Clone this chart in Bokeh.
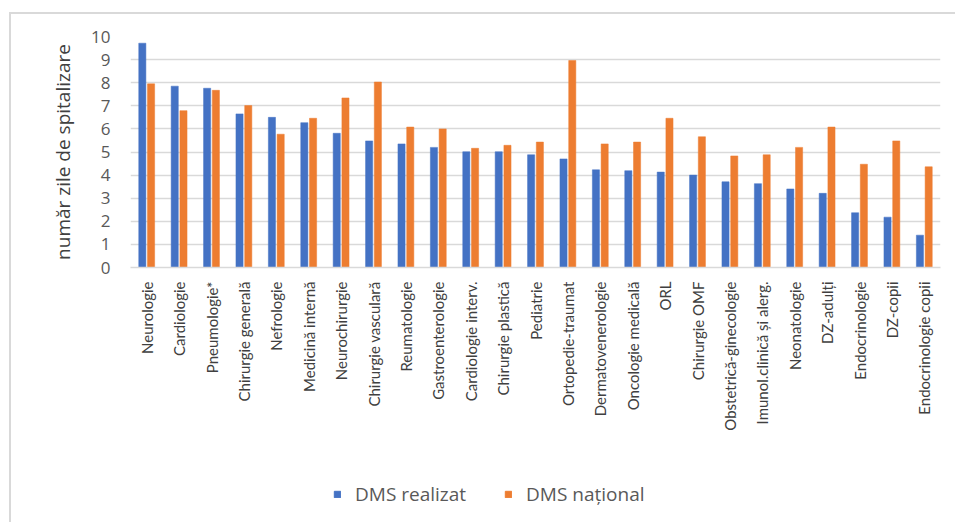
from math import pi
from bokeh.plotting import figure
from bokeh.layouts import column
from bokeh.models import (ColumnDataSource, FactorRange, Range1d, FixedTicker,
                          Legend, LegendItem)
from bokeh.transform import dodge
from bokeh.embed import file_html
from bokeh.resources import INLINE

categories = ["Neurologie", "Cardiologie", "Pneumologie*", "Chirurgie generală", "Nefrologie",
              "Medicină internă", "Neurochirurgie", "Chirurgie vasculară", "Reumatologie",
              "Gastroenterologie", "Cardiologie interv.", "Chirurgie plastică", "Pediatrie",
              "Ortopedie-traumat", "Dermatovenerologie", "Oncologie medicală", "ORL",
              "Chirurgie OMF", "Obstetrică-ginecologie", "Imunol.clinică și alerg.",
              "Neonatologie", "DZ-adulți", "Endocrinologie", "DZ-copii", "Endocrinologie copii"]
dms_realizat = [9.71, 7.85, 7.76, 6.65, 6.50, 6.27, 5.81, 5.48, 5.35, 5.20, 5.01, 5.01, 4.88,
                4.70, 4.23, 4.19, 4.13, 4.00, 3.71, 3.63, 3.40, 3.21, 2.37, 2.18, 1.40]
dms_national = [7.95, 6.79, 7.67, 7.01, 5.77, 6.46, 7.34, 8.03, 6.08, 6.00, 5.16, 5.29, 5.43,
                8.96, 5.35, 5.43, 6.46, 5.66, 4.83, 4.88, 5.20, 6.08, 4.47, 5.48, 4.36]
y_ticks = [0, 1, 2, 3, 4, 5, 6, 7, 8, 9, 10]
series_names = ["DMS realizat", "DMS național"]
colors = ["#4472C4", "#ED7D31"]

src = ColumnDataSource(dict(cat=categories, real=dms_realizat, nat=dms_national))
x_range = FactorRange(*categories, range_padding=0)

p = figure(width=944, height=450, output_backend="svg", toolbar_location=None,
           x_range=x_range, y_range=Range1d(0, 10),
           min_border_left=119, min_border_right=15, min_border_top=22, min_border_bottom=197)
p.outline_line_color = None
p.background_fill_color = "white"
p.border_fill_color = "white"

p.vbar(x=dodge("cat", -0.135, range=x_range), top="real", width=0.22, source=src,
       fill_color=colors[0], line_color=colors[0], line_width=0.5)
p.vbar(x=dodge("cat", 0.135, range=x_range), top="nat", width=0.22, source=src,
       fill_color=colors[1], line_color=colors[1], line_width=0.5)

p.xgrid.grid_line_color = None
p.ygrid.grid_line_color = "#d9d9d9"
p.ygrid.grid_line_width = 1.5
p.yaxis.ticker = FixedTicker(ticks=y_ticks)
p.ygrid.ticker = FixedTicker(ticks=y_ticks)

p.yaxis.axis_line_color = None
p.yaxis.major_tick_line_color = None
p.yaxis.minor_tick_line_color = None
p.yaxis.major_tick_out = 0
p.yaxis.major_label_standoff = 20
p.yaxis.major_label_text_font = "Open Sans"
p.yaxis.major_label_text_font_size = "17px"
p.yaxis.major_label_text_color = "#595959"
p.yaxis.axis_label = "număr zile de spitalizare"
p.yaxis.axis_label_text_font = "Open Sans"
p.yaxis.axis_label_text_font_size = "19px"
p.yaxis.axis_label_text_font_style = "normal"
p.yaxis.axis_label_text_color = "#404040"
p.yaxis.axis_label_standoff = 12

p.xaxis.axis_line_color = "#d9d9d9"
p.xaxis.axis_line_width = 1.5
p.xaxis.major_tick_line_color = None
p.xaxis.minor_tick_line_color = None
p.xaxis.major_tick_out = 0
p.xaxis.major_label_orientation = pi / 2
p.xaxis.major_label_standoff = 14
p.xaxis.major_label_text_font = "Lato"
p.xaxis.major_label_text_font_size = "15px"
p.xaxis.major_label_text_color = "#404040"

# legend strip below the chart (same data, drawn outside this strip's visible y window)
lf = figure(width=944, height=58, output_backend="svg", toolbar_location=None,
            x_range=x_range, y_range=Range1d(20, 21),
            min_border=0, min_border_left=0, min_border_right=0,
            min_border_top=0, min_border_bottom=0)
lf.axis.visible = False
lf.grid.visible = False
lf.outline_line_color = None
lf.background_fill_color = "white"
lf.border_fill_color = "white"
e1 = lf.vbar(x=dodge("cat", -0.135, range=x_range), top="real", width=0.22, source=src,
             fill_color=colors[0], line_color=colors[0])
e2 = lf.vbar(x=dodge("cat", 0.135, range=x_range), top="nat", width=0.22, source=src,
             fill_color=colors[1], line_color=colors[1])
legend = Legend(items=[LegendItem(label=series_names[0], renderers=[e1]),
                       LegendItem(label=series_names[1], renderers=[e2])],
                orientation="horizontal", location=(203, 15),
                glyph_width=8, glyph_height=8, label_standoff=14,
                label_text_font="Open Sans", label_text_font_size="19px",
                label_text_color="#595959", spacing=38, padding=6, margin=0,
                border_line_color=None, background_fill_alpha=0)
lf.add_layout(legend, "center")

layout = column(p, lf, spacing=0, margin=(12, 0, 0, 9),
                styles={"border-top": "2px solid #d9d9d9", "border-left": "2px solid #d9d9d9",
                        "background": "white"})

open("out.html", "w").write(file_html(layout, INLINE))
